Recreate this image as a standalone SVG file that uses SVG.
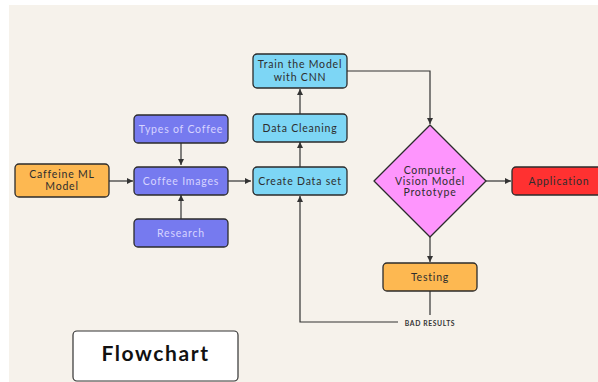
<svg xmlns="http://www.w3.org/2000/svg" width="598" height="382" viewBox="0 0 598 382">
<style>
.box{stroke:#2b2b2b;stroke-width:1.3}
.t{font-family:Lato,"Open Sans",sans-serif;font-size:10.5px;letter-spacing:0.8px;text-anchor:middle;fill:#2e2e2e}
.tl{fill:#d6d4ff}
.c{fill:none;stroke:#333;stroke-width:1.2}
</style>
<defs>
<marker id="ah" viewBox="0 0 6 6" refX="6" refY="3" markerWidth="5" markerHeight="5" orient="auto">
<path d="M0,0 L6,3 L0,6 z" fill="#333"/>
</marker>
</defs>
<rect x="0" y="0" width="598" height="382" fill="#ffffff"/>
<rect x="9" y="5" width="589" height="377" fill="#f6f2eb"/>
<g id="connectors">
<path class="c" d="M109,181 H133" marker-end="url(#ah)"/>
<path class="c" d="M181,143 V165" marker-end="url(#ah)"/>
<path class="c" d="M181,219 V195" marker-end="url(#ah)"/>
<path class="c" d="M228,181 H251" marker-end="url(#ah)"/>
<path class="c" d="M300,167 V142" marker-end="url(#ah)"/>
<path class="c" d="M300,114 V89" marker-end="url(#ah)"/>
<path class="c" d="M347,71 H430 V124" marker-end="url(#ah)"/>
<path class="c" d="M486,181 H511" marker-end="url(#ah)"/>
<path class="c" d="M430,237 V262" marker-end="url(#ah)"/>
<path class="c" d="M430,291 V315"/>
<path class="c" d="M398,322 H300 V196" marker-end="url(#ah)"/>
<text x="430" y="325.5" style="font-family:Lato,sans-serif;font-size:6.8px;font-weight:bold;letter-spacing:0.6px;text-anchor:middle;fill:#333">BAD RESULTS</text>
</g>
<g id="caffeine">
<rect class="box" x="15" y="164" width="94" height="33" rx="4" fill="#fdb851"/>
<text class="t" x="62" y="178">Caffeine ML</text>
<text class="t" x="62" y="190">Model</text>
</g>
<g id="types">
<rect class="box" x="134" y="115" width="94" height="28" rx="4" fill="#767aef"/>
<text class="t tl" x="181" y="132.5">Types of Coffee</text>
</g>
<g id="images">
<rect class="box" x="134" y="167" width="94" height="28" rx="4" fill="#767aef"/>
<text class="t tl" x="181" y="184.5">Coffee Images</text>
</g>
<g id="research">
<rect class="box" x="134" y="219" width="94" height="28" rx="4" fill="#767aef"/>
<text class="t tl" x="181" y="236.5">Research</text>
</g>
<g id="create">
<rect class="box" x="253" y="167" width="94" height="28" rx="4" fill="#7dd6f5"/>
<text class="t" x="300" y="184.5">Create Data set</text>
</g>
<g id="cleaning">
<rect class="box" x="253" y="114" width="94" height="28" rx="4" fill="#7dd6f5"/>
<text class="t" x="300" y="131.5">Data Cleaning</text>
</g>
<g id="train">
<rect class="box" x="253" y="54" width="94" height="34" rx="4" fill="#7dd6f5"/>
<text class="t" x="300" y="68">Train the Model</text>
<text class="t" x="300" y="81">with CNN</text>
</g>
<g id="prototype">
<path class="box" d="M430,125 L486,181 L430,237 L374,181 Z" fill="#fe95fd" stroke-linejoin="round"/>
<text class="t" x="430" y="174">Computer</text>
<text class="t" x="430" y="185">Vision Model</text>
<text class="t" x="430" y="196">Prototype</text>
</g>
<g id="application">
<rect class="box" x="512" y="167" width="92" height="28" rx="4" fill="#ff3131"/>
<text class="t" x="559" y="184.5">Application</text>
</g>
<g id="testing">
<rect class="box" x="383" y="263" width="94" height="28" rx="4" fill="#fdb851"/>
<text class="t" x="430" y="280.5">Testing</text>
</g>
<g id="title">
<rect x="73" y="331" width="165" height="50" rx="4" fill="#ffffff" stroke="#333" stroke-width="1.2"/>
<text x="155.5" y="361" style="font-family:Lato,sans-serif;font-size:21px;font-weight:bold;letter-spacing:1.6px;text-anchor:middle;fill:#111">Flowchart</text>
</g>
</svg>
